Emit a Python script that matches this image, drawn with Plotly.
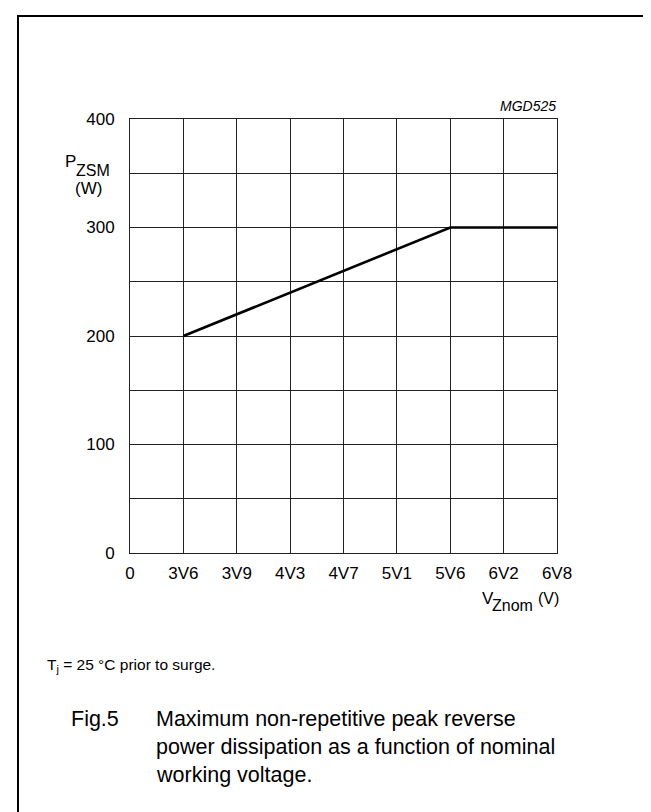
import plotly.graph_objects as go

# ---- data ----
categories = ["0", "3V6", "3V9", "4V3", "4V7", "5V1", "5V6", "6V2", "6V8"]
vz_points = ["3V6", "5V6", "6V8"]
pzsm_w = [200, 300, 300]
y_ticks = [0, 100, 200, 300, 400]

W, H = 651, 812
L, R, T, B = 122, 549, 111, 545  # plot area pixel box

def px(x):
    return (x - L) / (R - L)

def py(y):
    return (B - y) / (B - T)

FONT = "Liberation Sans, Arial, sans-serif"

fig = go.Figure()
fig.add_trace(go.Scatter(
    x=vz_points, y=pzsm_w, mode="lines",
    line=dict(color="black", width=2.6),
    showlegend=False, hoverinfo="skip",
))

fig.update_layout(
    width=W, height=H,
    margin=dict(l=L, r=W - R, t=T, b=H - B, pad=0),
    paper_bgcolor="white", plot_bgcolor="white",
    font=dict(family=FONT, size=17, color="black"),
    xaxis=dict(
        type="category", categoryorder="array", categoryarray=categories,
        range=[0, 8], tickmode="array", tickvals=categories, ticktext=categories,
        showgrid=True, gridcolor="#222", gridwidth=1,
        showline=True, linecolor="#222", linewidth=1, mirror=True,
        ticks="outside", ticklen=5, tickcolor="rgba(0,0,0,0)",
        tickfont=dict(family=FONT, size=17), zeroline=False, fixedrange=True,
    ),
    yaxis=dict(
        range=[0, 400], tickmode="array", tickvals=y_ticks,
        ticktext=[str(v) for v in y_ticks],
        showgrid=True, gridcolor="#222", gridwidth=1,
        minor=dict(dtick=50, showgrid=True, gridcolor="#222", gridwidth=1),
        showline=True, linecolor="#222", linewidth=1, mirror=True,
        ticks="outside", ticklen=11, tickcolor="rgba(0,0,0,0)",
        tickfont=dict(family=FONT, size=17), zeroline=False, fixedrange=True,
    ),
)

# outer frame (extends beyond the right and bottom of the page)
fig.add_shape(type="rect", xref="paper", yref="paper",
              x0=px(10), y0=py(900), x1=px(760), y1=py(8),
              line=dict(color="black", width=2), fillcolor="rgba(0,0,0,0)")

def ann(text, x, y, xanchor="left", size=17, italic=False):
    fig.add_annotation(
        text=text, x=px(x), y=py(y), xref="paper", yref="paper",
        xanchor=xanchor, yanchor="middle", showarrow=False,
        font=dict(family=FONT, size=size, color="black",
                  style="italic" if italic else "normal"),
    )

# y-axis title
ann("P", 55, 153)
ann("ZSM", 66, 162, size=16)
ann("(W)", 80, 180, xanchor="center")

# x-axis title
ann("V", 472, 590)
ann("Znom", 482, 597, size=16)
ann("(V)", 528, 590, size=16)

# diagram code
ann("MGD525", 550, 98, xanchor="right", size=14, italic=True)

# note
ann("T<sub>j</sub> = 25 °C prior to surge.", 37, 657, size=15.5)

# caption
ann("Fig.5", 61, 711, size=21.5)
ann("Maximum non-repetitive peak reverse", 146, 711, size=21.5)
ann("power dissipation as a function of nominal", 146, 739, size=21.5)
ann("working voltage.", 146, 767, size=21.5)

fig.write_html("out.html")
